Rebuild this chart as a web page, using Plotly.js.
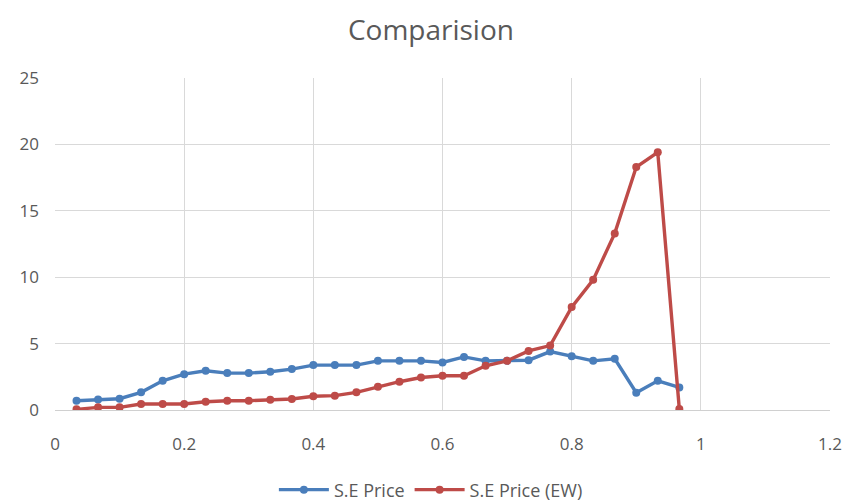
<!DOCTYPE html>
<html>
<head>
<meta charset="utf-8">
<script src="https://cdn.plot.ly/plotly-3.0.1.min.js"></script>
<style>html,body{margin:0;padding:0;background:#fff;}#chart{width:845px;height:502px;}</style>
</head>
<body>
<div id="chart"></div>
<script>
const xValues = [0.0333,0.0667,0.1,0.1333,0.1667,0.2,0.2333,0.2667,0.3,0.3333,0.3667,0.4,0.4333,0.4667,0.5,0.5333,0.5667,0.6,0.6333,0.6667,0.7,0.7333,0.7667,0.8,0.8333,0.8667,0.9,0.9333,0.9667];
const sePrice = [0.7,0.8,0.85,1.33,2.2,2.7,2.95,2.78,2.78,2.88,3.08,3.38,3.38,3.38,3.7,3.7,3.7,3.58,4.0,3.7,3.7,3.75,4.4,4.05,3.7,3.85,1.3,2.2,1.7];
const sePriceEW = [0.05,0.2,0.2,0.45,0.45,0.45,0.62,0.7,0.7,0.78,0.83,1.03,1.08,1.33,1.75,2.13,2.45,2.58,2.58,3.33,3.7,4.45,4.85,7.75,9.8,13.3,18.3,19.4,0.07];
const seriesNames = ["S.E Price","S.E Price (EW)"];

const fam = "Open Sans, Calibri, sans-serif";
const grey = "#595959";
const traces = [
  {x: xValues, y: sePrice, name: seriesNames[0], type: "scatter", mode: "lines+markers",
   line: {color: "#4A7EBB", width: 3.4}, marker: {color: "#4A7EBB", size: 8, symbol: "circle"}},
  {x: xValues, y: sePriceEW, name: seriesNames[1], type: "scatter", mode: "lines+markers",
   line: {color: "#BE4B48", width: 3.4}, marker: {color: "#BE4B48", size: 8, symbol: "circle"}}
];
const layout = {
  width: 845, height: 502,
  margin: {l: 55, r: 15, t: 78, b: 92},
  paper_bgcolor: "#fff", plot_bgcolor: "#fff",
  title: {text: "Comparision", font: {family: fam, size: 28, color: grey}, x: 0.51, xanchor: "center", y: 0.94, yanchor: "middle"},
  xaxis: {range: [0, 1.2], dtick: 0.2, tick0: 0, showgrid: true, gridcolor: "#d9d9d9", gridwidth: 1,
          zeroline: false, showline: true, linecolor: "#d0d0d0", ticks: "", ticklabelstandoff: 19,
          tickfont: {family: fam, size: 17, color: grey}, fixedrange: true},
  yaxis: {range: [0, 25], dtick: 5, showgrid: true, gridcolor: "#d9d9d9", gridwidth: 1,
          zeroline: false, showline: false, ticks: "", ticklabelstandoff: 15,
          tickfont: {family: fam, size: 17, color: grey}, fixedrange: true},
  showlegend: true,
  legend: {orientation: "h", x: 0.485, xanchor: "center", yref: "container", y: 0.024, yanchor: "middle",
           itemwidth: 50, font: {family: fam, size: 18, color: grey}}
};
Plotly.newPlot("chart", traces, layout, {displayModeBar: false, staticPlot: true});
</script>
</body>
</html>
